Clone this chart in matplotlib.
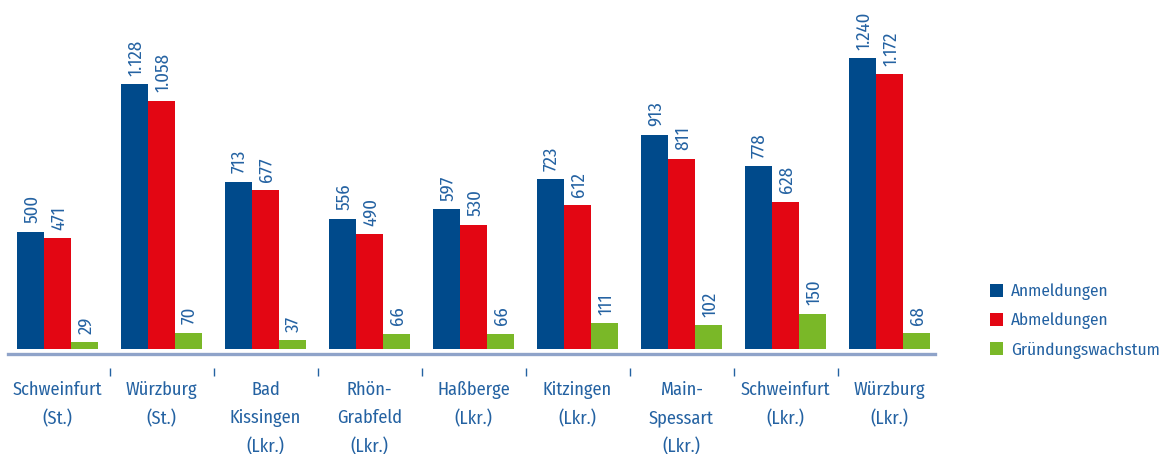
import matplotlib
matplotlib.use("Agg")
import matplotlib.pyplot as plt
import matplotlib.transforms as mtransforms
from matplotlib.patches import Patch
from matplotlib import font_manager as fm
import numpy as np

regionen = ["Schweinfurt\n(St.)", "Würzburg\n(St.)", "Bad\nKissingen\n(Lkr.)",
            "Rhön-\nGrabfeld\n(Lkr.)", "Haßberge\n(Lkr.)", "Kitzingen\n(Lkr.)",
            "Main-\nSpessart\n(Lkr.)", "Schweinfurt\n(Lkr.)", "Würzburg\n(Lkr.)"]
anmeldungen = [500, 1128, 713, 556, 597, 723, 913, 778, 1240]
abmeldungen = [471, 1058, 677, 490, 530, 612, 811, 628, 1172]
wachstum = [29, 70, 37, 66, 66, 111, 102, 150, 68]

serien = ["Anmeldungen", "Abmeldungen", "Gründungswachstum"]
farben = ["#004a8b", "#e30613", "#7ab828"]
textfarbe = "#2462a2"
achsfarbe = "#8fa3c9"

# schmale schrift wenn vorhanden, sonst Roboto kleiner
vorhanden = {f.name for f in fm.fontManager.ttflist}
schrift = None
for kandidat in ["Fira Sans Condensed", "Roboto Condensed", "PT Sans Narrow",
                 "Encode Sans Condensed", "Asap Condensed", "Barlow Semi Condensed"]:
    if kandidat in vorhanden:
        schrift = kandidat
        break
if schrift:
    plt.rcParams['font.family'] = [schrift, 'DejaVu Sans']
    fs_wert, fs_name, fs_leg = 13.5, 13.2, 12.4
else:
    plt.rcParams['font.family'] = ['Roboto', 'DejaVu Sans']
    fs_wert, fs_name, fs_leg = 11.5, 11.5, 10.5

W, H = 1174, 454
fig = plt.figure(figsize=(W / 100, H / 100), dpi=100)

# achse in pixeln: links 8, rechts 935, unten 354, oben 10
ax = fig.add_axes([8 / W, 1 - 354 / H, (935 - 8) / W, (354 - 10) / H])

skala = 291 / 1240.0
ax.set_ylim(-5 / skala, (349 - 10) / skala)
ax.set_xlim(-0.476, len(regionen) - 1 + 0.4375)

x = np.arange(len(regionen))
breite = 27 / 104.0

def fmt(v):
    return f"{v:,}".replace(",", ".")

for k, (daten, farbe) in enumerate(zip([anmeldungen, abmeldungen, wachstum], farben)):
    pos = x + (k - 1) * breite
    ax.bar(pos, daten, width=breite, color=farbe, linewidth=0)
    for p, v in zip(pos, daten):
        ax.annotate(fmt(v), (p, v), xytext=(1, 6), textcoords="offset points",
                    rotation=90, ha="center", va="bottom", fontsize=fs_wert,
                    color=textfarbe)

for s in ["top", "right", "left"]:
    ax.spines[s].set_visible(False)
ax.spines["bottom"].set_color(achsfarbe)
ax.spines["bottom"].set_linewidth(2.4)
ax.set_yticks([])
ax.set_xticks([])

# kleine trennstriche unter der achse
trans = mtransforms.blended_transform_factory(ax.transData, ax.transAxes)
h_ax = 344.0
ax.vlines(x[:-1] + 0.5, -14 / h_ax, -22 / h_ax, transform=trans,
          color=textfarbe, lw=1.0, clip_on=False)

for xi, name in zip(x, regionen):
    ax.text(xi, -27 / h_ax, name, transform=trans, ha="center", va="top",
            fontsize=fs_name, color=textfarbe, linespacing=1.72)

handles = [Patch(facecolor=f, edgecolor="none") for f in farben]
fig.legend(handles, serien, loc="upper left", bbox_to_anchor=(981 / W, 1 - 275 / H),
           frameon=False, fontsize=fs_leg, labelcolor=textfarbe, handlelength=0.75,
           handleheight=0.75, handletextpad=0.5, labelspacing=0.72, borderpad=0)

fig.savefig("out.png", dpi=100)
